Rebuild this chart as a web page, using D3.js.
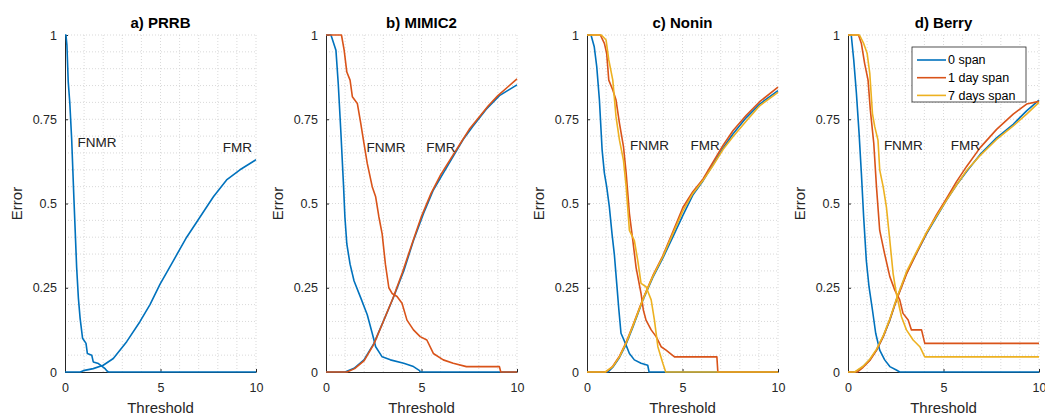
<!DOCTYPE html>
<html>
<head>
<meta charset="utf-8">
<script src="https://cdn.jsdelivr.net/npm/d3@7"></script>
<style>
  body { margin: 0; background: #fff; }
  svg { display: block; font-family: "Liberation Sans", Arial, sans-serif; }
</style>
</head>
<body>
<svg id="chart" width="1045" height="416"></svg>
<script>
// ---- data (threshold, error) ----
const prrbFnmr0 = [[0,1],[0.05,1],[0.1,0.97],[0.17,0.86],[0.25,0.8],[0.35,0.69],[0.47,0.51],[0.61,0.31],[0.7,0.22],[0.79,0.16],[0.92,0.1],[1.1,0.085],[1.17,0.055],[1.4,0.05],[1.48,0.03],[1.75,0.025],[2.1,0.01],[2.2,0.003],[2.27,0],[10,0]];
const prrbFmr0 = [[0,0],[0.8,0],[0.96,0.004],[1.48,0.01],[2.0,0.02],[2.53,0.04],[3.23,0.09],[3.93,0.15],[4.45,0.2],[4.97,0.26],[5.67,0.33],[6.37,0.4],[7.07,0.46],[7.77,0.52],[8.46,0.57],[9.16,0.6],[10,0.63]];

const mimicFnmr0 = [[0,1],[0.26,1],[0.52,0.955],[0.64,0.857],[0.78,0.71],[0.92,0.55],[0.99,0.46],[1.09,0.38],[1.26,0.32],[1.47,0.27],[1.82,0.22],[2.16,0.17],[2.42,0.115],[2.6,0.075],[2.94,0.045],[3.37,0.036],[4.07,0.026],[4.58,0.016],[4.9,0.004],[4.93,0],[10,0]];
const mimicFnmr1 = [[0,1],[0.81,1],[0.95,0.955],[1.09,0.89],[1.26,0.866],[1.38,0.817],[1.64,0.797],[1.82,0.738],[1.99,0.678],[2.16,0.619],[2.42,0.55],[2.6,0.52],[2.77,0.46],[2.94,0.41],[3.11,0.32],[3.29,0.25],[3.46,0.233],[3.72,0.224],[3.98,0.204],[4.24,0.154],[4.58,0.125],[4.93,0.105],[5.28,0.095],[5.62,0.055],[6.14,0.036],[6.66,0.026],[7.35,0.016],[9.08,0.016],[9.15,0],[10,0]];
const mimicFmr0 = [[0,0],[1.0,0],[1.47,0.011],[1.99,0.036],[2.51,0.085],[3.03,0.154],[3.55,0.224],[4.07,0.3],[4.58,0.39],[5.1,0.47],[5.62,0.54],[6.14,0.59],[6.66,0.64],[7.18,0.69],[7.7,0.73],[8.39,0.78],[9.08,0.82],[10,0.852]];
const mimicFmr1 = [[0,0],[1.1,0],[1.5,0.01],[2.0,0.034],[2.5,0.082],[3.0,0.15],[3.5,0.218],[4.0,0.295],[4.5,0.38],[5.0,0.462],[5.5,0.53],[6.0,0.585],[6.5,0.63],[7.0,0.675],[7.5,0.72],[8.0,0.755],[8.5,0.79],[9.0,0.82],[9.5,0.845],[10,0.87]];

const noninFnmr0 = [[0,1],[0.21,1],[0.38,0.965],[0.51,0.906],[0.65,0.807],[0.79,0.66],[0.91,0.59],[1.03,0.55],[1.17,0.49],[1.31,0.41],[1.43,0.35],[1.56,0.26],[1.66,0.19],[1.78,0.115],[2.01,0.085],[2.22,0.055],[2.48,0.036],[2.83,0.026],[3.18,0.02],[3.25,0],[10,0]];
const noninFnmr1 = [[0,1],[0.7,1],[0.91,0.975],[1.03,0.946],[1.14,0.866],[1.35,0.837],[1.52,0.807],[1.7,0.738],[1.91,0.669],[2.05,0.59],[2.22,0.47],[2.4,0.39],[2.57,0.31],[2.83,0.233],[2.95,0.184],[3.09,0.154],[3.36,0.125],[3.62,0.105],[3.88,0.075],[4.14,0.065],[4.58,0.045],[6.8,0.045],[6.85,0],[10,0]];
const noninFnmr7 = [[0,1],[0.75,1],[1.0,0.985],[1.14,0.926],[1.35,0.866],[1.52,0.757],[1.7,0.688],[1.91,0.628],[2.05,0.55],[2.22,0.42],[2.48,0.39],[2.66,0.33],[2.83,0.263],[3.09,0.253],[3.36,0.214],[3.53,0.154],[3.71,0.075],[3.97,0.026],[4.12,0],[10,0]];
const noninFmr0 = [[0,0],[1.1,0],[1.35,0.014],[1.7,0.043],[2.05,0.083],[2.4,0.133],[2.92,0.212],[3.44,0.28],[3.97,0.338],[4.49,0.4],[5.02,0.465],[5.54,0.525],[6.07,0.567],[6.59,0.615],[7.12,0.664],[7.64,0.706],[8.34,0.755],[9.04,0.795],[10,0.835]];
const noninFmr1 = [[0,0],[1.0,0],[1.35,0.017],[1.7,0.047],[2.05,0.088],[2.4,0.138],[2.92,0.216],[3.44,0.285],[3.97,0.345],[4.49,0.415],[5.02,0.488],[5.54,0.535],[6.07,0.572],[6.59,0.622],[7.12,0.672],[7.64,0.716],[8.34,0.762],[9.04,0.802],[10,0.845]];
const noninFmr7 = [[0,0],[0.95,0],[1.35,0.016],[1.7,0.045],[2.05,0.086],[2.4,0.136],[2.92,0.214],[3.44,0.283],[3.97,0.342],[4.49,0.41],[5.02,0.478],[5.54,0.53],[6.07,0.568],[6.59,0.612],[7.12,0.66],[7.64,0.698],[8.34,0.745],[9.04,0.79],[10,0.83]];

const berryFnmr0 = [[0,1],[0.17,1],[0.3,0.926],[0.44,0.827],[0.58,0.708],[0.7,0.59],[0.82,0.46],[0.96,0.33],[1.1,0.253],[1.28,0.184],[1.45,0.115],[1.66,0.065],[1.92,0.036],[2.19,0.016],[2.53,0.006],[2.71,0],[10,0]];
const berryFnmr1 = [[0,1],[0.55,1],[0.7,0.975],[0.87,0.916],[1.05,0.866],[1.17,0.777],[1.35,0.678],[1.49,0.55],[1.66,0.42],[1.92,0.35],[2.19,0.283],[2.45,0.243],[2.71,0.214],[2.88,0.174],[3.15,0.154],[3.32,0.125],[3.85,0.125],[4.02,0.085],[10,0.085]];
const berryFnmr7 = [[0,1],[0.6,1],[0.82,0.975],[1.0,0.946],[1.14,0.886],[1.28,0.767],[1.4,0.728],[1.57,0.688],[1.66,0.6],[1.84,0.55],[2.01,0.49],[2.19,0.39],[2.36,0.293],[2.53,0.233],[2.8,0.164],[3.06,0.125],[3.41,0.095],[3.76,0.075],[4.02,0.045],[10,0.045]];
const berryFmr0 = [[0,0],[0.4,0],[0.79,0.016],[1.14,0.036],[1.49,0.065],[1.84,0.105],[2.19,0.154],[2.53,0.214],[3.06,0.293],[3.58,0.352],[4.11,0.41],[4.63,0.46],[5.16,0.51],[5.68,0.555],[6.21,0.595],[6.91,0.645],[7.78,0.695],[8.65,0.735],[9.35,0.775],[10,0.807]];
const berryFmr1 = [[0,0],[0.5,0],[0.79,0.014],[1.14,0.034],[1.49,0.064],[1.84,0.104],[2.19,0.155],[2.53,0.212],[3.06,0.29],[3.58,0.352],[4.11,0.412],[4.63,0.466],[5.16,0.515],[5.68,0.565],[6.21,0.61],[6.91,0.665],[7.78,0.72],[8.65,0.765],[9.35,0.795],[10,0.803]];
const berryFmr7 = [[0,0],[0.35,0],[0.79,0.017],[1.14,0.038],[1.49,0.067],[1.84,0.107],[2.19,0.157],[2.53,0.216],[3.06,0.297],[3.58,0.356],[4.11,0.414],[4.63,0.462],[5.16,0.51],[5.68,0.555],[6.21,0.598],[6.91,0.642],[7.78,0.69],[8.65,0.73],[9.35,0.765],[10,0.8]];

const spans = ["0 span", "1 day span", "7 days span"];
const titles = ["a) PRRB", "b) MIMIC2", "c) Nonin", "d) Berry"];
const xTicks = [0, 5, 10];
const yTicks = [0, 0.25, 0.5, 0.75, 1];

// each panel: list of [fnmr, fmr] per span, and where the labels sit (data coords)
const panels = [
  {curves: [[prrbFnmr0, prrbFmr0]], fnmrAt: [1.68, 0.683], fmrAt: [9.03, 0.668]},
  {curves: [[mimicFnmr0, mimicFmr0], [mimicFnmr1, mimicFmr1]], fnmrAt: [3.14, 0.668], fmrAt: [6.02, 0.668]},
  {curves: [[noninFnmr0, noninFmr0], [noninFnmr1, noninFmr1], [noninFnmr7, noninFmr7]], fnmrAt: [3.27, 0.674], fmrAt: [6.18, 0.674]},
  {curves: [[berryFnmr0, berryFmr0], [berryFnmr1, berryFmr1], [berryFnmr7, berryFmr7]], fnmrAt: [2.9, 0.674], fmrAt: [6.15, 0.674]}
];

const color = d3.scaleOrdinal().domain(spans).range(["#0072BD", "#D95319", "#EDB120"]);

const svg = d3.select("#chart");
const left0 = 65, step = 261, w = 191, plotTop = 35, plotBottom = 372;
const axisCol = "#262626";

panels.forEach((p, k) => {
  const x = d3.scaleLinear().domain([0, 10]).range([left0 + k * step, left0 + k * step + w]);
  const y = d3.scaleLinear().domain([0, 1]).range([plotBottom, plotTop]);
  const g = svg.append("g");

  // minor + major grid, dotted
  const grid = g.append("g").attr("stroke", "#cfcfcf").attr("stroke-width", 0.8).attr("stroke-dasharray", "1,2");
  grid.selectAll(".gx").data(d3.range(1, 11)).join("line")
    .attr("x1", d => x(d)).attr("x2", d => x(d)).attr("y1", plotTop).attr("y2", plotBottom);
  grid.selectAll(".gy").data(d3.range(1, 21).map(i => i * 0.05)).join("line")
    .attr("y1", d => y(d)).attr("y2", d => y(d)).attr("x1", x(0)).attr("x2", x(10));

  // axes
  g.append("g").attr("transform", `translate(0,${plotBottom})`)
    .call(d3.axisBottom(x).tickValues(xTicks).tickSizeInner(-3).tickSizeOuter(0).tickPadding(11))
    .call(a => a.select(".domain").attr("stroke", axisCol))
    .call(a => a.selectAll(".tick line").attr("stroke", axisCol))
    .call(a => a.selectAll("text").attr("fill", axisCol).attr("font-size", 12.5).attr("font-family", null));
  g.append("g").attr("transform", `translate(${x(0)},0)`)
    .call(d3.axisLeft(y).tickValues(yTicks).tickFormat(d3.format("~g")).tickSizeInner(-3).tickSizeOuter(0).tickPadding(8))
    .call(a => a.select(".domain").attr("stroke", axisCol))
    .call(a => a.selectAll(".tick line").attr("stroke", axisCol))
    .call(a => a.selectAll("text").attr("fill", axisCol).attr("font-size", 12.5).attr("font-family", null));

  // curves
  const line = d3.line().x(d => x(d[0])).y(d => y(d[1]));
  p.curves.forEach((pair, i) => {
    pair.forEach(c => {
      g.append("path").attr("d", line(c)).attr("fill", "none")
        .attr("stroke", color(spans[i])).attr("stroke-width", 1.6).attr("stroke-linejoin", "round");
    });
  });

  // texts
  g.append("text").attr("x", x(5)).attr("y", 23).attr("text-anchor", "middle")
    .attr("font-weight", "bold").attr("font-size", 15).attr("fill", "#000").attr("dy", "0.35em").text(titles[k]);
  g.append("text").attr("x", x(5)).attr("y", 408).attr("text-anchor", "middle")
    .attr("font-size", 15).attr("fill", axisCol).attr("dy", "0.35em").text("Threshold");
  g.append("text").attr("transform", `translate(${x(0) - 48},${y(0.5)}) rotate(-90)`).attr("text-anchor", "middle")
    .attr("font-size", 15).attr("fill", axisCol).attr("dy", "0.35em").text("Error");
  g.append("text").attr("x", x(p.fnmrAt[0])).attr("y", y(p.fnmrAt[1])).attr("text-anchor", "middle")
    .attr("font-size", 13.5).attr("fill", "#222").attr("dy", "0.35em").text("FNMR");
  g.append("text").attr("x", x(p.fmrAt[0])).attr("y", y(p.fmrAt[1])).attr("text-anchor", "middle")
    .attr("font-size", 13.5).attr("fill", "#222").attr("dy", "0.35em").text("FMR");

  // legend on last panel
  if (k === 3) {
    const lg = g.append("g").attr("transform", "translate(912,47)");
    lg.append("rect").attr("width", 114).attr("height", 55).attr("fill", "#fff").attr("stroke", axisCol).attr("stroke-width", 0.8);
    const row = lg.selectAll(".row").data(spans).join("g").attr("transform", (d, i) => `translate(0,${13 + i * 17.7})`);
    row.append("line").attr("x1", 5).attr("x2", 34).attr("stroke", d => color(d)).attr("stroke-width", 1.6);
    row.append("text").attr("x", 36).attr("dy", "0.35em").attr("font-size", 12.5).attr("fill", "#000").text(d => d);
  }
});
</script>
</body>
</html>
